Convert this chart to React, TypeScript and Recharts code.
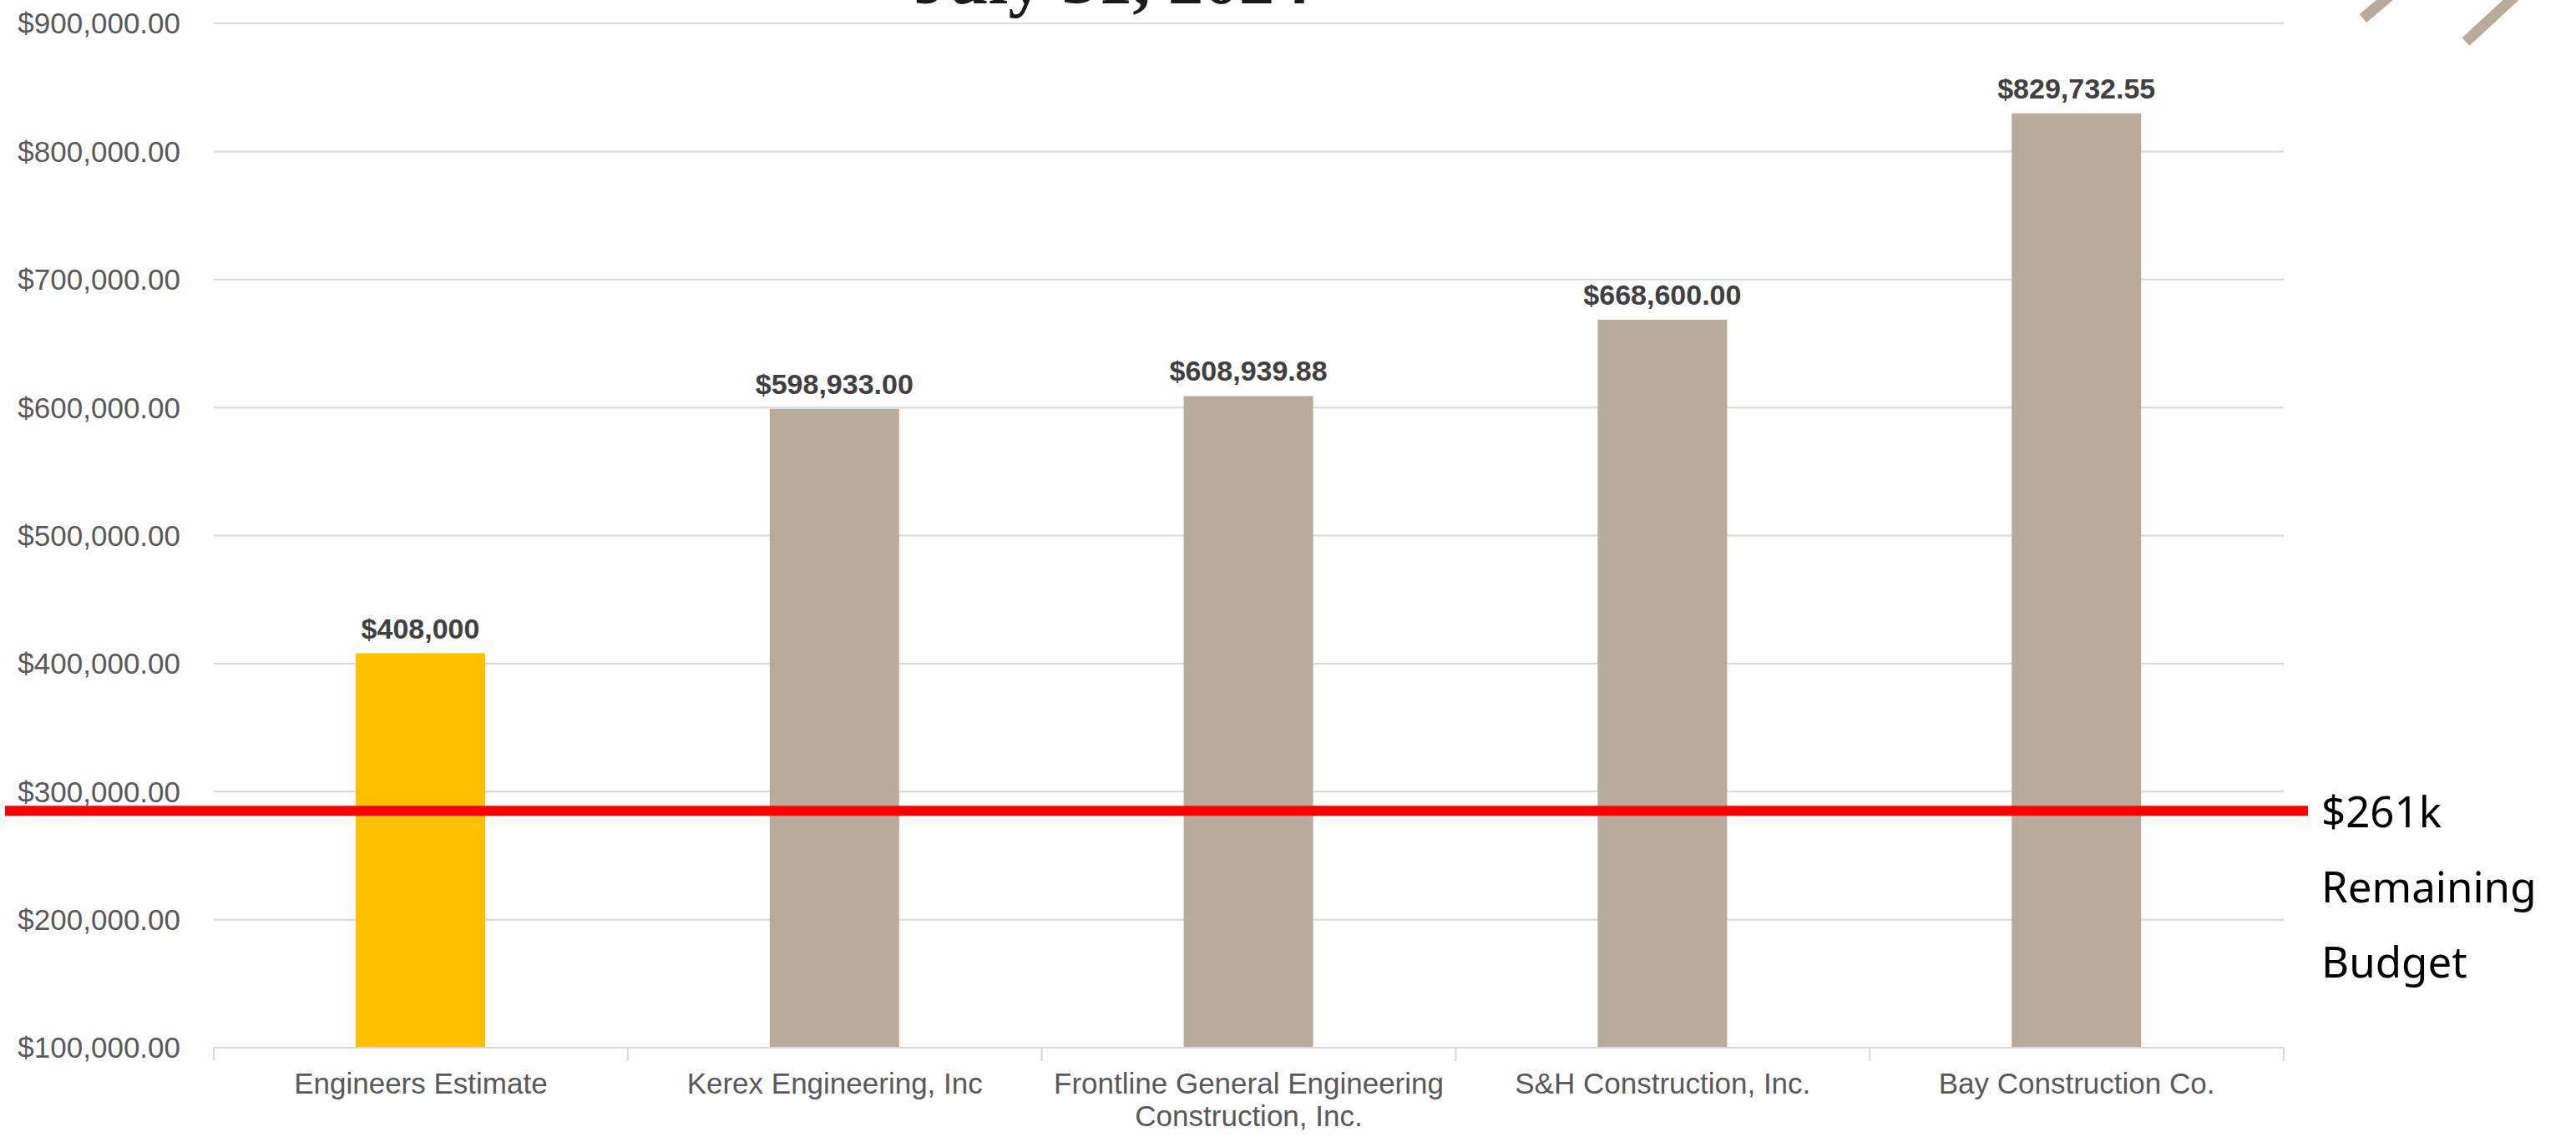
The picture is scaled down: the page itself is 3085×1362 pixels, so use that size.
import { BarChart, Bar, XAxis, YAxis, CartesianGrid, Cell, LabelList, ReferenceLine } from "recharts";

// Bid results
const bidders = [
  "Engineers Estimate",
  "Kerex Engineering, Inc",
  "Frontline General Engineering Construction, Inc.",
  "S&H Construction, Inc.",
  "Bay Construction Co.",
];
const bidAmounts = [408000, 598933, 608939.88, 668600, 829732.55];
const bidLabels = ["$408,000", "$598,933.00", "$608,939.88", "$668,600.00", "$829,732.55"];
const barColors = ["#ffc000", "#b8ab9c", "#b8ab9c", "#b8ab9c", "#b8ab9c"];
const yTicks = [100000, 200000, 300000, 400000, 500000, 600000, 700000, 800000, 900000];

// red line sits here in the picture, the note says $261k
const budgetLine = 285000;
const budgetNote = ["$261k", "Remaining", "Budget"];

const data = bidders.map((name, i) => ({
  name,
  amount: bidAmounts[i],
  label: bidLabels[i],
  color: barColors[i],
}));

const AXIS_FONT = "'Liberation Sans', Arial, sans-serif";

const money = (v: number) =>
  "$" + v.toLocaleString("en-US", { minimumFractionDigits: 2, maximumFractionDigits: 2 });

// crude wrap, Excel breaks the long name in two
function wrap(text: string, max = 30) {
  const lines: string[] = [];
  let cur = "";
  text.split(" ").forEach((w) => {
    if (cur && (cur + " " + w).length > max) {
      lines.push(cur);
      cur = w;
    } else {
      cur = cur ? cur + " " + w : w;
    }
  });
  if (cur) lines.push(cur);
  return lines;
}

function CategoryTick(props: any) {
  const { x, y, payload, index } = props;
  const half = payload.offset || 248;
  const lines = wrap(String(payload.value));
  return (
    <g>
      <line x1={x - half} x2={x - half} y1={y} y2={y + 16} stroke="#d9d9d9" strokeWidth={2} />
      {index === bidders.length - 1 && (
        <line x1={x + half} x2={x + half} y1={y} y2={y + 16} stroke="#d9d9d9" strokeWidth={2} />
      )}
      <text x={x} y={y + 55} textAnchor="middle" fill="#595959" fontSize={35} fontFamily={AXIS_FONT}>
        {lines.map((l, i) => (
          <tspan key={i} x={x} dy={i === 0 ? 0 : 39}>
            {l}
          </tspan>
        ))}
      </text>
    </g>
  );
}

function BudgetLine(props: any) {
  const y = props.y1;
  return (
    <g>
      <line x1={6} x2={2764} y1={y} y2={y} stroke="#ff0000" strokeWidth={12} />
      {budgetNote.map((t, i) => (
        <text
          key={t}
          x={2780}
          y={y + 20 + i * 90}
          fontSize={51}
          fill="#000000"
          fontFamily="'Noto Sans', Lato, sans-serif"
        >
          {t}
        </text>
      ))}
    </g>
  );
}

export default function App() {
  return (
    <div style={{ position: "relative", width: 3085, height: 1362, background: "#fdfdfd", overflow: "hidden" }}>
      <style>{"body{margin:0}"}</style>
      <BarChart
        width={3085}
        height={1362}
        data={data}
        margin={{ top: 28, right: 350, left: 0, bottom: 0 }}
      >
        <CartesianGrid vertical={false} stroke="#d9d9d9" strokeWidth={2} />
        <XAxis
          dataKey="name"
          interval={0}
          height={107}
          tickLine={false}
          tickSize={0}
          tickMargin={0}
          axisLine={{ stroke: "#d9d9d9", strokeWidth: 2 }}
          tick={<CategoryTick />}
        />
        <YAxis
          type="number"
          domain={[100000, 900000]}
          ticks={yTicks}
          allowDataOverflow
          width={256}
          axisLine={false}
          tickLine={false}
          tickSize={6}
          tickMargin={34}
          tickFormatter={money}
          tick={{ fill: "#595959", fontSize: 35, fontFamily: AXIS_FONT }}
        />
        <Bar dataKey="amount" barSize={155} isAnimationActive={false}>
          {data.map((d, i) => (
            <Cell key={i} fill={d.color} />
          ))}
          <LabelList
            dataKey="label"
            position="top"
            offset={18}
            fill="#404040"
            fontSize={34}
            fontWeight="bold"
            fontFamily={AXIS_FONT}
          />
        </Bar>
        <ReferenceLine y={budgetLine} ifOverflow="visible" shape={<BudgetLine />} />
      </BarChart>
      {/* title is cut off at the top of the slide, only its lower edge shows */}
      <svg width={3085} height={1362} style={{ position: "absolute", left: 0, top: 0, pointerEvents: "none" }}>
        <text
          x={1094}
          y={4}
          fontSize={85}
          fontWeight="bold"
          fill="#1a1a1a"
          fontFamily="'Liberation Serif', 'DejaVu Serif', serif"
        >
          July 31, 2024
        </text>
        <line x1={2830} y1={22} x2={2870} y2={-12} stroke="#b8ab9c" strokeWidth={13} />
        <line x1={2953} y1={50} x2={3020} y2={-12} stroke="#b8ab9c" strokeWidth={13} />
      </svg>
    </div>
  );
}
